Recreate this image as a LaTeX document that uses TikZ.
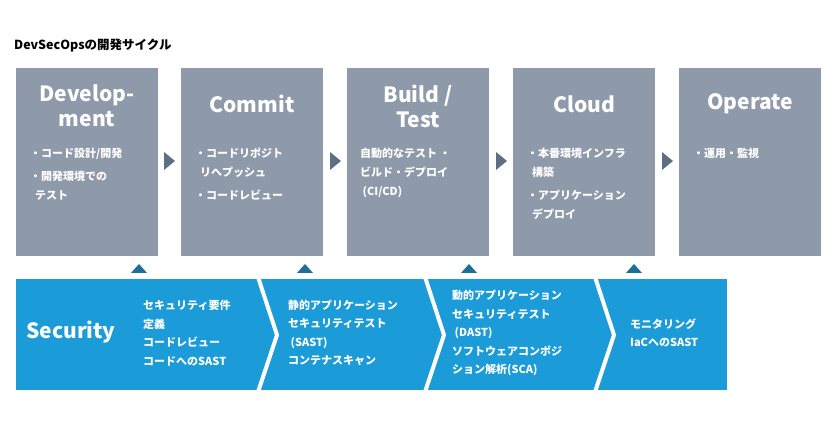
\documentclass[tikz,border=0pt]{standalone}
\usepackage{fontspec}
\setmainfont{Noto Sans CJK JP}
\begin{document}
\begin{tikzpicture}[x=1pt,y=-1pt,
 box/.style={fill=gbox,draw=none},
 ttl/.style={text=white,font=\fontsize{21}{25}\selectfont\bfseries,align=center,anchor=center},
 txt/.style={text=white,font=\fontsize{11}{19}\selectfont\bfseries,align=left,anchor=north west,inner sep=0},
 stxt/.style={text=white,font=\fontsize{11}{18.5}\selectfont\bfseries,align=left,anchor=west,inner sep=0},
 gtri/.style={fill=gtri,draw=none},
 btri/.style={fill=btri,draw=none}]
\definecolor{gbox}{HTML}{8E99AA}
\definecolor{gtri}{HTML}{5E6E85}
\definecolor{sblue}{HTML}{1B9BD7}
\definecolor{btri}{HTML}{1F6E98}
\useasboundingbox (0,0) rectangle (836,438);
\node[anchor=west,inner sep=0,font=\fontsize{12.5}{14}\selectfont\bfseries] (title) at (14,45) {DevSecOpsの開発サイクル};
\foreach \x/\n in {16/b1,181/b2,347/b3,513/b4,679/b5}{
 \fill[box] (\x,68) rectangle ++(142,188);
 \coordinate (\n) at (\x,68);
}
\node[ttl] (t1) at (87,106) {Develop-\\ment};
\node[ttl] (t2) at (252,104) {Commit};
\node[ttl] (t3) at (418,106) {Build /\\Test};
\node[ttl] (t4) at (584,104) {Cloud};
\node[ttl] (t5) at (750,104) {Operate};
\node[txt] (d1) at (30,148) {・コード設計/開発\\[4pt]・開発環境での\\\ \ テスト};
\node[txt] (d2) at (195,148) {・コードリポジト\\\ \ リへプッシュ\\[4pt]・コードレビュー};
\node[txt] (d3) at (360,148) {自動的なテスト ・\\ビルド・デプロイ\\\ (CI/CD)};
\node[txt] (d4) at (527,148) {・本番環境インフラ\\\ \ 構築\\[4pt]・アプリケーション\\\ \ デプロイ};
\node[txt] (d5) at (693,148) {・運用・監視};
\foreach \x in {164,330,496,662}{
 \fill[gtri] (\x,152) -- (\x+11,161) -- (\x,170) -- cycle;
}
\foreach \x in {139,305,469,634}{
 \fill[btri] (\x-8,273) -- (\x,264) -- (\x+8,273) -- cycle;
}
\fill[sblue] (16,279) rectangle (727,390);
\foreach \x in {258,425,595}{
 \draw[white,line width=4pt] (\x,277) -- (\x+19,335) -- (\x,392);
}
\node[anchor=west,inner sep=0,text=white,font=\fontsize{21}{22}\selectfont\bfseries] (sec) at (26,332) {Security};
\node[stxt] (s1) at (143,333) {セキュリティ要件\\定義\\コードレビュー\\コードへのSAST};
\node[stxt] (s2) at (288,333) {静的アプリケーション\\セキュリティテスト\\\ (SAST)\\コンテナスキャン};
\node[stxt] (s3) at (452,333) {動的アプリケーション\\セキュリティテスト\\\ (DAST)\\ソフトウェアコンポジ\\ション解析(SCA)};
\node[stxt] (s4) at (630,333) {モニタリング\\IaCへのSAST};
\end{tikzpicture}
\end{document}
